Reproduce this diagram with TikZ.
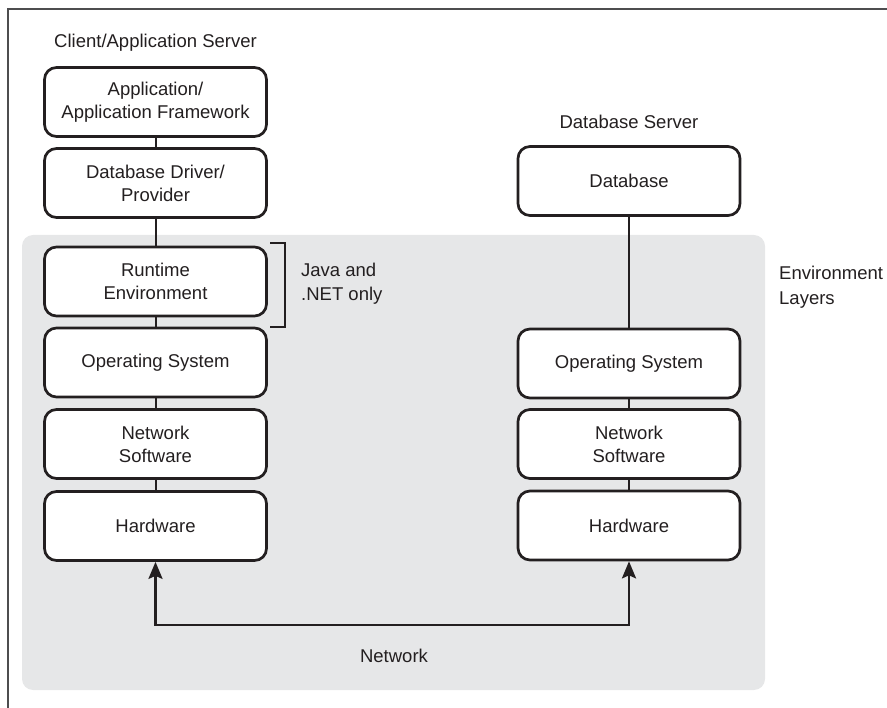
\documentclass[tikz,border=0pt]{standalone}
\usepackage{fontspec}
\setmainfont{Liberation Sans}
\usetikzlibrary{arrows.meta}
\definecolor{ink}{HTML}{231F20}
\definecolor{envgray}{HTML}{E6E7E8}
\definecolor{framegray}{HTML}{4D4D4F}
\tikzset{
  layer/.style={draw=ink, line width=2.7pt, fill=white, rounded corners=12pt,
    minimum width=222pt, minimum height=69pt, inner sep=0pt, align=center,
    text=ink, font=\fontsize{18.5}{23}\selectfont},
  label/.style={text=ink, inner sep=0pt, font=\fontsize{18.5}{24.5}\selectfont},
  link/.style={draw=ink, line width=2pt},
  netarrow/.style={draw=ink, line width=2.6pt,
    {Stealth[length=17pt,width=14pt,inset=3pt]}-{Stealth[length=17pt,width=14pt,inset=3pt]}},
}
\begin{document}
\begin{tikzpicture}[x=1pt, y=-1pt]
  \useasboundingbox (0,0) rectangle (887,708);
  % outer frame (top and left edges)
  \draw[framegray, line width=1.5pt] (887,9) -- (8,9) -- (8,708);
  % environment layer panel
  \fill[envgray, rounded corners=11pt] (22,235) rectangle (765,690);

  % client / application server stack
  \node[label] (clienttitle) at (155.5,43) {Client/Application Server};
  \node[layer] (app) at (155.5,102) {Application/\\Application Framework};
  \node[layer] (drv) at (155.5,183) {Database Driver/\\Provider};
  \node[layer] (rt)  at (155.5,281.5) {Runtime\\Environment};
  \node[layer] (los) at (155.5,362.5) {Operating System};
  \node[layer] (lns) at (155.5,444) {Network\\Software};
  \node[layer] (lhw) at (155.5,526) {Hardware};

  % database server stack
  \node[label] (dbtitle) at (629,122) {Database Server};
  \node[layer] (db)  at (629,181) {Database};
  \node[layer] (ros) at (629,363.5) {Operating System};
  \node[layer] (rns) at (629,444) {Network\\Software};
  \node[layer] (rhw) at (629,525.5) {Hardware};

  % vertical links between layers
  \draw[link] (app.south) -- (drv.north);
  \draw[link] (drv.south) -- (rt.north);
  \draw[link] (rt.south) -- (los.north);
  \draw[link] (los.south) -- (lns.north);
  \draw[link] (lns.south) -- (lhw.north);
  \draw[link] (db.south) -- (ros.north);
  \draw[link] (ros.south) -- (rns.north);
  \draw[link] (rns.south) -- (rhw.north);

  % bracket marking the runtime layer
  \coordinate (brt) at (270,243);
  \coordinate (brb) at (270,327);
  \draw[ink, line width=2.4pt] (brt) -- ++(15,0) -- ++(0,84) -- (brb);
  \node[label, anchor=west, align=left] (javanote) at (301,283.5) {Java and\\.NET only};

  \node[label, anchor=west, align=left] (envnote) at (779,287) {Environment\\Layers};

  % network link between the two hardware layers
  \coordinate (net) at (394,625);
  \draw[netarrow] (lhw.south) -- (lhw.south |- net) -- (rhw.south |- net) -- (rhw.south);
  \node[label] (netlabel) at (394,656) {Network};
\end{tikzpicture}
\end{document}
